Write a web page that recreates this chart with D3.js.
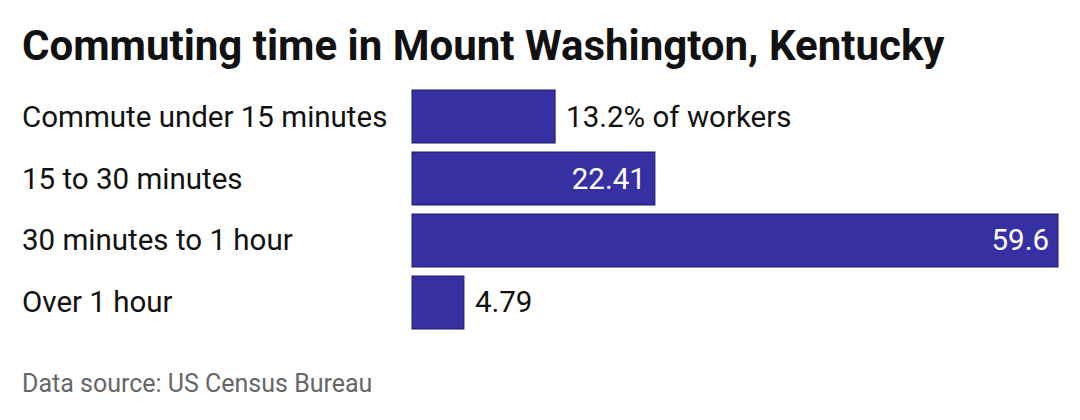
<!DOCTYPE html>
<html><head><meta charset="utf-8">
<script src="https://cdn.jsdelivr.net/npm/d3@7"></script>
<style>body{margin:0;background:#fff;font-family:Roboto,sans-serif}</style>
</head><body>
<svg id="c" width="1080" height="420"></svg>
<script>
var categories = ['Commute under 15 minutes', '15 to 30 minutes', '30 minutes to 1 hour', 'Over 1 hour'];
var values = [13.2, 22.41, 59.6, 4.79];
var labels = ['13.2% of workers', '22.41', '59.6', '4.79'];

var svg = d3.select('#c');
var x = d3.scaleLinear().domain([0, 59.6]).range([412, 1058]);
var y = d3.scaleBand().domain(categories).range([90, 329]).paddingInner(0.145).paddingOuter(0);

svg.append('text').attr('x', 22).attr('y', 60)
  .style('font-size', '42px').style('font-weight', 700).attr('fill', '#111')
  .text('Commuting time in Mount Washington, Kentucky');

var g = svg.selectAll('g.bar').data(categories).enter().append('g');
g.append('text').attr('x', 22).attr('y', function(d) { return y(d) + y.bandwidth() / 2 + 10; })
  .style('font-size', '29.5px').attr('fill', '#111').text(function(d) { return d; });
g.append('rect').attr('x', x(0)).attr('y', function(d) { return y(d); })
  .attr('width', function(d, i) { return x(values[i]) - x(0); })
  .attr('height', y.bandwidth())
  .attr('fill', '#3730a3').attr('stroke', '#1e1a6b').attr('stroke-width', 1);
g.append('text')
  .attr('x', function(d, i) { var w = x(values[i]) - x(0); return w > 200 ? x(values[i]) - 9 : x(values[i]) + 11; })
  .attr('text-anchor', function(d, i) { return x(values[i]) - x(0) > 200 ? 'end' : 'start'; })
  .attr('y', function(d) { return y(d) + y.bandwidth() / 2 + 10; })
  .style('font-size', '29.5px')
  .attr('fill', function(d, i) { return x(values[i]) - x(0) > 200 ? '#fff' : '#111'; })
  .text(function(d, i) { return labels[i]; });

svg.append('text').attr('x', 22).attr('y', 392)
  .style('font-size', '25px').attr('fill', '#666').text('Data source: US Census Bureau');
</script>
</body></html>
